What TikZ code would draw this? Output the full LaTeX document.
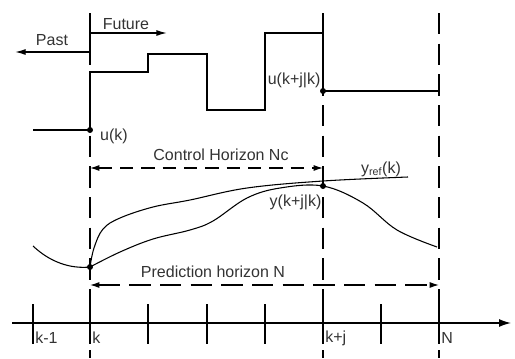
\documentclass[tikz,border=0pt]{standalone}
\usepackage{fontspec}
\setmainfont{Liberation Sans}
\usepackage{tikz}
\usetikzlibrary{arrows.meta,positioning,calc}

\begin{document}
\begin{tikzpicture}[
  x=0.75pt,y=-0.75pt,
  lbl/.style={inner sep=1pt,font=\fontsize{12}{14}\selectfont,text=black!80},
  tlbl/.style={lbl,anchor=west,inner xsep=1.5pt},
  axis/.style={line width=1pt,-{Latex[length=9pt,width=6pt]}},
  tickmark/.style={line width=0.9pt},
  guide/.style={line width=0.9pt,dash pattern=on 16pt off 7pt},
  horizon/.style={line width=0.9pt,{Latex[length=7pt,width=4.5pt]}-{Latex[length=7pt,width=4.5pt]}},
  signal/.style={line width=1.3pt},
  curve/.style={line width=0.8pt},
  timearr/.style={line width=1pt,-{Latex[length=8pt,width=4.5pt]}},
  dot/.style={circle,fill=black,inner sep=0pt,minimum size=4.5pt}
]
\useasboundingbox (0,0) rectangle (515,358);

% time instants
\coordinate (kT) at (90,13);   \coordinate (kB) at (90,358);
\coordinate (kjT) at (323,13); \coordinate (kjB) at (323,358);
\coordinate (NT) at (439,13);  \coordinate (NB) at (439,358);
\draw[guide] (kT) -- (kB);
\draw[guide] (kjT) -- (kjB);
\draw[guide] (NT) -- (NB);

% past / future
\coordinate (now) at (90,52);
\coordinate (past) at (15,52);
\coordinate (fut) at (167,33);
\draw[timearr] (now) -- (past);
\draw[timearr] (now) |- (fut);
\node[lbl] (pastlbl) at (52,40) {Past};
\node[lbl] (futlbl) at (126,24) {Future};

% control moves
\node[dot] (uk) at (90,130) {};
\node[dot] (ukj) at (323,91) {};
\draw[signal] (33,130) -- (uk.center) -- (90,72) -- (148,72) -- (148,54) -- (207,54)
  -- (207,110) -- (265,110) -- (265,33) -- (323,33) -- (ukj.center) -- (439,91);
\node[lbl] (uklbl) at (114,136) {u(k)};
\node[lbl,anchor=east] (ukjlbl) at (322,80) {u(k+j|k)};

% control horizon
\coordinate (ncL) at (90,168);
\coordinate (ncR) at (323,168);
\draw[horizon,dash pattern=on 10pt off 6pt] (ncL) -- (ncR);
\node[lbl] (nclbl) at (221,155) {Control Horizon Nc};

% reference and predicted output
\node[dot] (yk) at (90,267) {};
\node[dot] (ykj) at (323,186) {};
\draw[curve] (33,246) .. controls (50,262) and (70,269) .. (yk.center);
\draw[curve] plot[smooth,tension=0.6] coordinates {(90,267) (94,248) (103,229) (120,218) (153,207)
  (190,200) (247,188) (323,181) (408,177)};
\draw[curve] plot[smooth,tension=0.6] coordinates {(90,267) (120,252) (153,239) (190,230)
  (213,221) (247,198) (280,188) (323,186) (363,203) (397,230) (437,247)};
\node[lbl] (yreflbl) at (381,169) {y\textsubscript{ref}(k)};
\node[lbl,anchor=east] (ykjlbl) at (323,202) {y(k+j|k)};

% prediction horizon
\coordinate (npL) at (90,285);
\coordinate (npR) at (439,285);
\draw[horizon,dash pattern=on 16pt off 7pt] (npL) -- (npR);
\node[lbl] (nplbl) at (213,272) {Prediction horizon N};

% time axis
\coordinate (axL) at (12,323);
\coordinate (axR) at (511,323);
\draw[axis] (axL) -- (axR);
\foreach \t in {33,90,148,207,265,323,381,439}
  \draw[tickmark] (\t,304) -- (\t,344);
\node[tlbl] (km1) at (33,338) {k-1};
\node[tlbl] (k) at (90,338) {k};
\node[tlbl] (kj) at (323,338) {k+j};
\node[tlbl] (N) at (439,338) {N};
\end{tikzpicture}
\end{document}
